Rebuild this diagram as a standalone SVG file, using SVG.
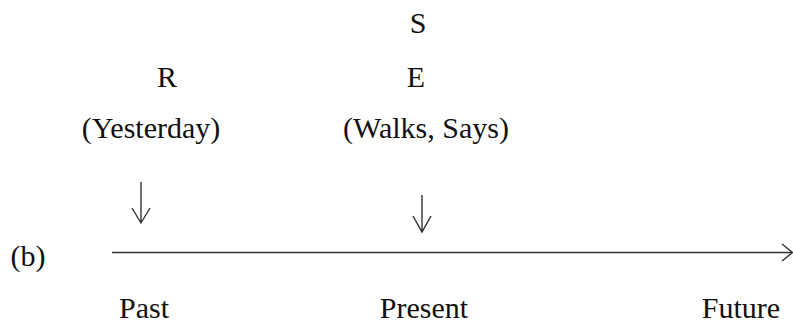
<svg xmlns="http://www.w3.org/2000/svg" width="793" height="324" viewBox="0 0 793 324">
<style>
text{font-family:'Liberation Serif','DejaVu Serif',serif;font-size:30px;fill:#111;text-anchor:middle}
.ln{stroke:#333;stroke-width:1.4;fill:none}
</style>
<rect width="793" height="324" fill="#fff"/>
<g id="S"><text x="418" y="33">S</text></g>
<g id="R"><text x="167" y="87">R</text></g>
<g id="E"><text x="416" y="87">E</text></g>
<g id="yesterday"><text x="151" y="138">(Yesterday)</text></g>
<g id="walks"><text x="426" y="138">(Walks, Says)</text></g>
<g id="b"><text x="28" y="266">(b)</text></g>
<g id="past"><text x="144" y="318">Past</text></g>
<g id="present"><text x="424" y="318">Present</text></g>
<g id="future"><text x="741" y="318">Future</text></g>
<g id="connectors">
<path class="ln" d="M112 252.5H792"/>
<path class="ln" d="M782 244L792.5 252.5L782 261"/>
<path class="ln" d="M141 182V223M132 208L141 223L150 208"/>
<path class="ln" d="M422 195V232M413 216L422 232L431 216"/>
</g>
</svg>
